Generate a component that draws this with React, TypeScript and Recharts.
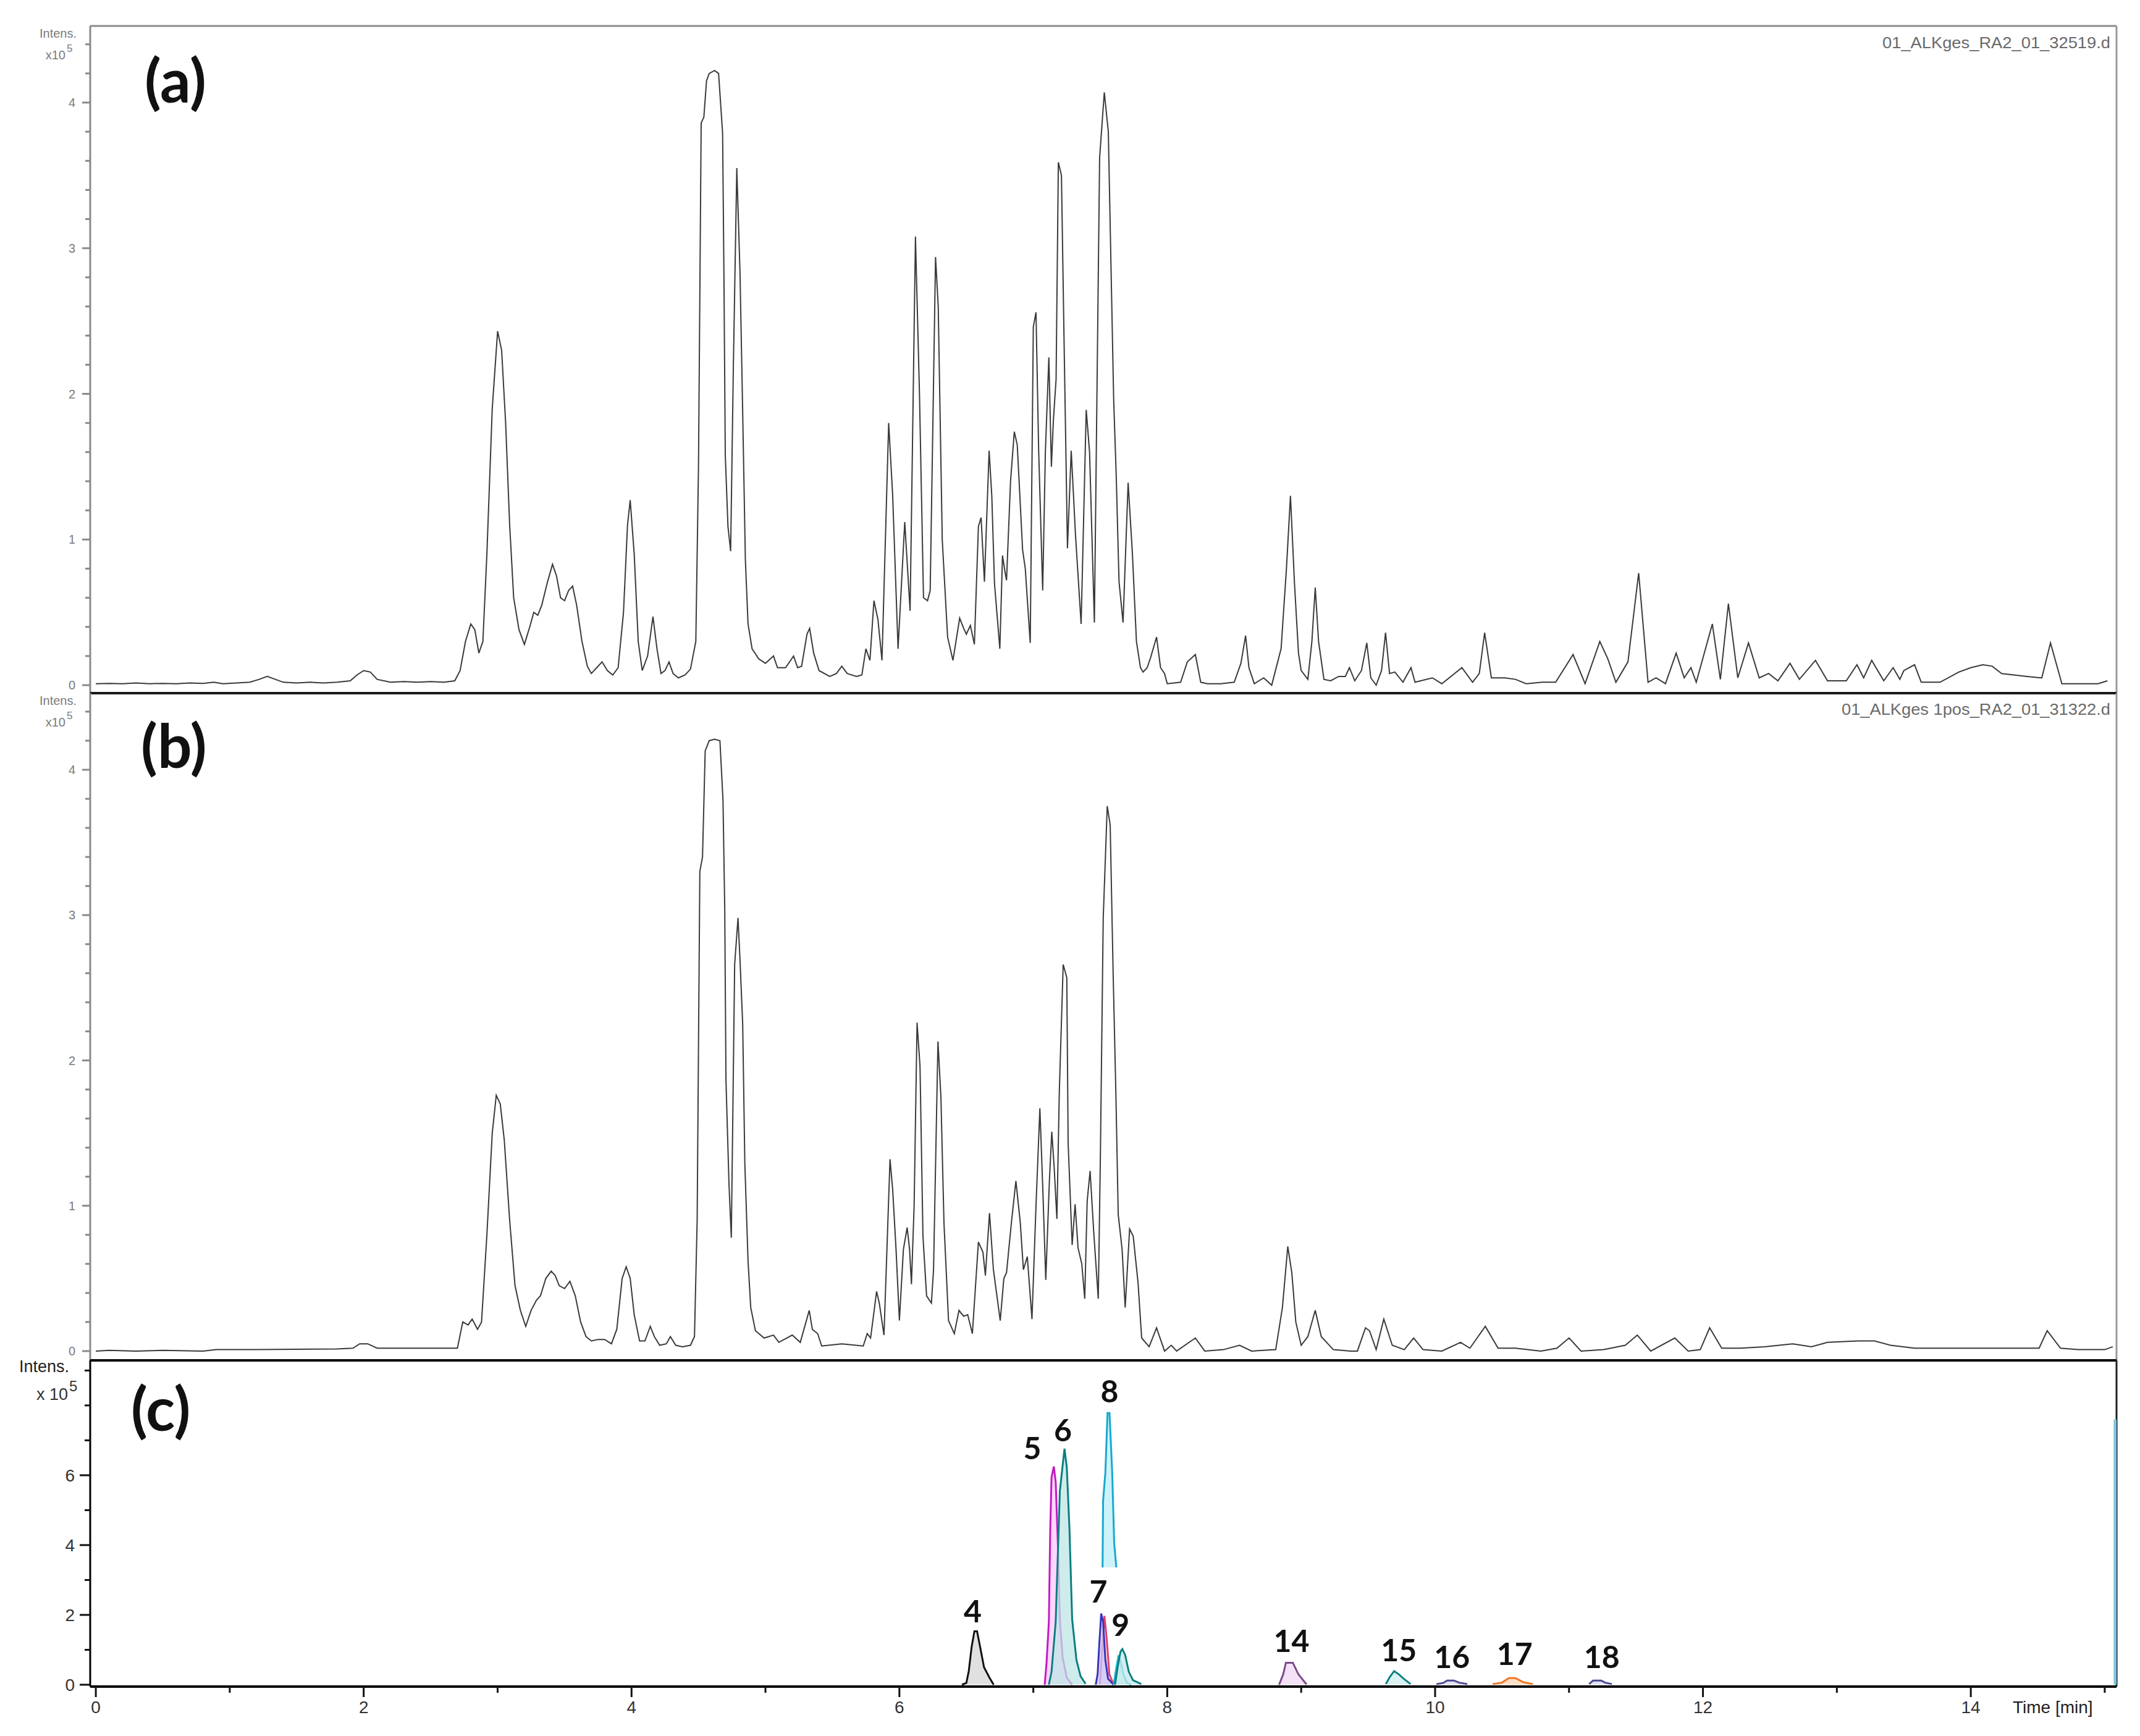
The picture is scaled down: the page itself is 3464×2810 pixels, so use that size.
import React from 'react';
import { ComposedChart, Line, Area, XAxis, YAxis, ReferenceLine, Scatter } from 'recharts';

// ---------- axes ----------
const X_DOMAIN: [number, number] = [-0.042, 15.088];
const A_DOMAIN: [number, number] = [-0.055, 4.526];
const B_DOMAIN: [number, number] = [-0.064, 4.527];
const C_DOMAIN: [number, number] = [-0.053, 9.29];
const X_TICKS = [0, 1, 2, 3, 4, 5, 6, 7, 8, 9, 10, 11, 12, 13, 14, 15];
const AB_Y_TICKS = [0, 0.2, 0.4, 0.6, 0.8, 1, 1.2, 1.4, 1.6, 1.8, 2, 2.2, 2.4, 2.6, 2.8, 3, 3.2, 3.4, 3.6, 3.8, 4, 4.2, 4.4];
const C_Y_TICKS = [0, 1, 2, 3, 4, 5, 6, 7, 8, 9];
const C_Y_LABELLED = [0, 2, 4, 6];

// ---------- panel (a): time [min], intensity [x10^5] ----------
const TRACE_A: [number, number][] = [
  [0, 0.01], [0.1, 0.012], [0.2, 0.01], [0.3, 0.015], [0.4, 0.01], [0.5, 0.012], [0.6, 0.01], [0.7, 0.015],
  [0.8, 0.012], [0.88, 0.02], [0.95, 0.01], [1.05, 0.015], [1.15, 0.02], [1.22, 0.04], [1.28, 0.06], [1.34, 0.04],
  [1.4, 0.02], [1.5, 0.015], [1.6, 0.02], [1.7, 0.015], [1.8, 0.02], [1.9, 0.03], [1.95, 0.07], [2.0, 0.1],
  [2.05, 0.09], [2.1, 0.04], [2.2, 0.02], [2.3, 0.025], [2.4, 0.02], [2.5, 0.025], [2.6, 0.02], [2.68, 0.03],
  [2.72, 0.1], [2.76, 0.3], [2.8, 0.42], [2.83, 0.38], [2.86, 0.22], [2.89, 0.3], [2.92, 0.9], [2.96, 1.9],
  [3.0, 2.43], [3.03, 2.3], [3.06, 1.8], [3.09, 1.1], [3.12, 0.6], [3.16, 0.38], [3.2, 0.28], [3.24, 0.4],
  [3.27, 0.5], [3.3, 0.48], [3.33, 0.55], [3.37, 0.7], [3.41, 0.83], [3.44, 0.75], [3.47, 0.6], [3.5, 0.58],
  [3.53, 0.65], [3.56, 0.68], [3.59, 0.55], [3.63, 0.3], [3.67, 0.13], [3.7, 0.08], [3.74, 0.12], [3.78, 0.16],
  [3.82, 0.1], [3.86, 0.07], [3.9, 0.12], [3.94, 0.5], [3.97, 1.1], [3.99, 1.27], [4.02, 0.9], [4.05, 0.3],
  [4.08, 0.1], [4.12, 0.2], [4.16, 0.47], [4.19, 0.25], [4.22, 0.08], [4.25, 0.1], [4.28, 0.16], [4.31, 0.08],
  [4.35, 0.05], [4.4, 0.07], [4.44, 0.11], [4.48, 0.3], [4.5, 1.5], [4.52, 3.86], [4.54, 3.9], [4.56, 4.15],
  [4.58, 4.2], [4.62, 4.22], [4.65, 4.2], [4.68, 3.79], [4.69, 2.81], [4.7, 1.58], [4.72, 1.09], [4.74, 0.92],
  [4.76, 2.17], [4.786, 3.55], [4.81, 2.83], [4.83, 1.87], [4.85, 0.86], [4.87, 0.42], [4.9, 0.25], [4.95, 0.18],
  [5.0, 0.15], [5.06, 0.2], [5.09, 0.12], [5.15, 0.12], [5.21, 0.2], [5.24, 0.12], [5.27, 0.13], [5.31, 0.35],
  [5.33, 0.39], [5.36, 0.22], [5.4, 0.1], [5.48, 0.06], [5.53, 0.08], [5.57, 0.13], [5.61, 0.08], [5.68, 0.06],
  [5.72, 0.07], [5.75, 0.25], [5.78, 0.17], [5.81, 0.58], [5.84, 0.45], [5.87, 0.17], [5.92, 1.8], [5.95, 1.3],
  [5.99, 0.25], [6.04, 1.12], [6.08, 0.51], [6.12, 3.08], [6.15, 2.0], [6.18, 0.6], [6.21, 0.58], [6.23, 0.65],
  [6.27, 2.94], [6.29, 2.6], [6.32, 1.0], [6.36, 0.33], [6.4, 0.17], [6.45, 0.46], [6.48, 0.39], [6.5, 0.35],
  [6.53, 0.41], [6.56, 0.28], [6.59, 1.09], [6.61, 1.15], [6.635, 0.71], [6.67, 1.61], [6.69, 1.3], [6.71, 0.7],
  [6.75, 0.25], [6.77, 0.89], [6.79, 0.77], [6.8, 0.72], [6.83, 1.4], [6.858, 1.74], [6.88, 1.65], [6.92, 0.93],
  [6.94, 0.8], [6.977, 0.29], [7.0, 2.46], [7.02, 2.56], [7.04, 1.61], [7.07, 0.65], [7.09, 1.6], [7.116, 2.25],
  [7.135, 1.5], [7.15, 1.82], [7.17, 2.1], [7.187, 3.59], [7.21, 3.5], [7.23, 2.34], [7.255, 0.94], [7.283, 1.61],
  [7.315, 1.03], [7.357, 0.42], [7.395, 1.89], [7.42, 1.6], [7.456, 0.43], [7.495, 3.62], [7.53, 4.07], [7.56, 3.8],
  [7.6, 1.96], [7.619, 1.44], [7.64, 0.71], [7.67, 0.43], [7.708, 1.39], [7.74, 0.9], [7.77, 0.3], [7.8, 0.12],
  [7.82, 0.09], [7.85, 0.12], [7.876, 0.19], [7.92, 0.33], [7.95, 0.12], [7.98, 0.08], [8.0, 0.01], [8.1, 0.02],
  [8.15, 0.16], [8.21, 0.21], [8.25, 0.02], [8.3, 0.01], [8.4, 0.01], [8.5, 0.02], [8.55, 0.15], [8.585, 0.34],
  [8.61, 0.12], [8.65, 0.01], [8.72, 0.05], [8.78, 0.0], [8.85, 0.25], [8.89, 0.8], [8.92, 1.3], [8.95, 0.7],
  [8.98, 0.22], [9.0, 0.1], [9.05, 0.04], [9.08, 0.3], [9.105, 0.67], [9.13, 0.3], [9.17, 0.04], [9.22, 0.03],
  [9.28, 0.06], [9.33, 0.06], [9.36, 0.12], [9.4, 0.03], [9.45, 0.1], [9.49, 0.29], [9.52, 0.05], [9.56, 0.0],
  [9.6, 0.1], [9.63, 0.36], [9.66, 0.08], [9.7, 0.09], [9.76, 0.02], [9.82, 0.12], [9.85, 0.02], [9.98, 0.05],
  [10.05, 0.01], [10.2, 0.12], [10.28, 0.02], [10.33, 0.08], [10.37, 0.36], [10.42, 0.05], [10.52, 0.05], [10.6, 0.04],
  [10.68, 0.01], [10.8, 0.02], [10.9, 0.02], [11.03, 0.21], [11.12, 0.01], [11.23, 0.3], [11.29, 0.18], [11.35, 0.02],
  [11.44, 0.16], [11.52, 0.77], [11.59, 0.02], [11.65, 0.05], [11.72, 0.01], [11.8, 0.22], [11.86, 0.05], [11.91, 0.12],
  [11.95, 0.02], [12.07, 0.42], [12.13, 0.04], [12.19, 0.56], [12.26, 0.05], [12.34, 0.29], [12.42, 0.05], [12.49, 0.08],
  [12.56, 0.03], [12.65, 0.15], [12.72, 0.04], [12.84, 0.17], [12.93, 0.03], [13.07, 0.03], [13.15, 0.14], [13.2, 0.05],
  [13.26, 0.17], [13.35, 0.03], [13.42, 0.12], [13.47, 0.04], [13.5, 0.1], [13.58, 0.14], [13.63, 0.02], [13.77, 0.02],
  [13.91, 0.09], [14.0, 0.12], [14.09, 0.14], [14.16, 0.13], [14.23, 0.08], [14.42, 0.06], [14.53, 0.05], [14.595, 0.29],
  [14.68, 0.01], [14.8, 0.01], [14.95, 0.01], [15.02, 0.03],
];

// ---------- panel (b) ----------
const TRACE_B: [number, number][] = [
  [0, 0.0], [0.1, 0.005], [0.3, 0.0], [0.5, 0.005], [0.8, 0.0], [0.9, 0.01], [1.2, 0.01], [1.5, 0.012],
  [1.8, 0.015], [1.92, 0.02], [1.97, 0.05], [2.03, 0.05], [2.1, 0.02], [2.4, 0.02], [2.7, 0.02], [2.74, 0.2],
  [2.78, 0.18], [2.81, 0.22], [2.85, 0.15], [2.88, 0.2], [2.92, 0.8], [2.96, 1.5], [2.99, 1.76], [3.02, 1.7],
  [3.05, 1.45], [3.09, 0.9], [3.13, 0.45], [3.17, 0.28], [3.21, 0.17], [3.25, 0.28], [3.29, 0.35], [3.32, 0.38],
  [3.36, 0.5], [3.4, 0.55], [3.43, 0.52], [3.46, 0.45], [3.5, 0.43], [3.54, 0.48], [3.58, 0.38], [3.62, 0.2],
  [3.66, 0.1], [3.7, 0.07], [3.75, 0.08], [3.8, 0.08], [3.85, 0.05], [3.89, 0.15], [3.93, 0.5], [3.96, 0.58],
  [3.99, 0.5], [4.02, 0.25], [4.06, 0.07], [4.1, 0.07], [4.14, 0.17], [4.17, 0.1], [4.21, 0.04], [4.26, 0.05],
  [4.29, 0.1], [4.33, 0.04], [4.38, 0.03], [4.44, 0.04], [4.47, 0.1], [4.49, 0.9], [4.51, 3.3], [4.53, 3.4],
  [4.55, 4.13], [4.58, 4.2], [4.62, 4.21], [4.66, 4.2], [4.683, 3.79], [4.696, 3.04], [4.705, 1.87], [4.728, 1.14],
  [4.745, 0.78], [4.77, 2.66], [4.795, 2.98], [4.81, 2.69], [4.83, 2.25], [4.846, 1.29], [4.87, 0.62], [4.89, 0.3],
  [4.925, 0.14], [4.99, 0.09], [5.06, 0.11], [5.1, 0.06], [5.2, 0.11], [5.26, 0.06], [5.327, 0.28], [5.35, 0.15],
  [5.39, 0.12], [5.42, 0.035], [5.57, 0.05], [5.73, 0.035], [5.76, 0.12], [5.785, 0.09], [5.83, 0.41], [5.85, 0.33],
  [5.885, 0.11], [5.93, 1.32], [5.95, 1.11], [5.975, 0.7], [6.0, 0.21], [6.03, 0.7], [6.058, 0.85], [6.076, 0.7],
  [6.09, 0.46], [6.11, 1.0], [6.132, 2.26], [6.154, 1.96], [6.176, 0.79], [6.203, 0.38], [6.239, 0.33], [6.255, 0.56],
  [6.288, 2.13], [6.31, 1.75], [6.333, 0.88], [6.367, 0.21], [6.41, 0.12], [6.445, 0.28], [6.48, 0.24], [6.51, 0.25],
  [6.545, 0.12], [6.59, 0.75], [6.624, 0.68], [6.642, 0.52], [6.673, 0.95], [6.702, 0.56], [6.753, 0.21], [6.78, 0.5],
  [6.8, 0.54], [6.836, 0.88], [6.87, 1.17], [6.903, 0.88], [6.926, 0.56], [6.955, 0.65], [6.99, 0.22], [7.02, 1.0],
  [7.049, 1.67], [7.071, 1.11], [7.093, 0.49], [7.12, 1.17], [7.138, 1.51], [7.156, 1.26], [7.176, 0.91], [7.194, 1.78],
  [7.223, 2.66], [7.25, 2.57], [7.26, 1.43], [7.29, 0.73], [7.312, 1.01], [7.334, 0.71], [7.362, 0.6], [7.384, 0.36],
  [7.402, 1.03], [7.424, 1.24], [7.451, 0.82], [7.485, 0.36], [7.5, 1.29], [7.522, 2.98], [7.552, 3.75], [7.574, 3.62],
  [7.596, 2.6], [7.617, 1.75], [7.634, 0.94], [7.663, 0.7], [7.686, 0.3], [7.719, 0.84], [7.746, 0.79], [7.782, 0.47],
  [7.809, 0.09], [7.865, 0.03], [7.92, 0.16], [7.98, 0.0], [8.03, 0.04], [8.07, 0.0], [8.21, 0.09], [8.28, 0.0],
  [8.42, 0.01], [8.54, 0.04], [8.63, 0.0], [8.81, 0.01], [8.86, 0.3], [8.9, 0.72], [8.93, 0.54], [8.96, 0.2],
  [9.0, 0.04], [9.05, 0.1], [9.105, 0.28], [9.15, 0.1], [9.24, 0.01], [9.37, 0.0], [9.42, 0.0], [9.48, 0.16],
  [9.51, 0.14], [9.56, 0.01], [9.617, 0.22], [9.68, 0.04], [9.77, 0.01], [9.84, 0.09], [9.91, 0.01], [10.05, 0.0],
  [10.19, 0.06], [10.26, 0.02], [10.375, 0.17], [10.47, 0.02], [10.6, 0.02], [10.79, 0.0], [10.91, 0.02], [11.0, 0.09],
  [11.09, 0.0], [11.26, 0.01], [11.42, 0.04], [11.51, 0.11], [11.61, 0.0], [11.79, 0.09], [11.89, 0.0], [11.98, 0.01],
  [12.05, 0.16], [12.14, 0.02], [12.28, 0.02], [12.46, 0.03], [12.67, 0.05], [12.81, 0.03], [12.93, 0.06], [13.16, 0.07],
  [13.28, 0.07], [13.4, 0.04], [13.58, 0.02], [13.86, 0.02], [14.1, 0.02], [14.51, 0.02], [14.57, 0.14], [14.67, 0.02],
  [14.8, 0.01], [15.0, 0.01], [15.06, 0.03],
];

// ---------- panel (c): extracted ion chromatograms ----------
const PEAK_4: [number, number][] = [[6.467, 0], [6.5, 0.05], [6.518, 0.39], [6.539, 1.07], [6.56, 1.53], [6.58, 1.53], [6.601, 1.12], [6.632, 0.5], [6.673, 0.2], [6.704, 0.0]];
const PEAK_5: [number, number][] = [[7.085, 0], [7.099, 0.64], [7.116, 1.8], [7.126, 4.38], [7.136, 5.94], [7.153, 6.25], [7.167, 5.81], [7.184, 3.97], [7.198, 1.87], [7.219, 0.78], [7.25, 0.2], [7.29, 0]];
const PEAK_6: [number, number][] = [[7.116, 0], [7.136, 0.37], [7.167, 1.8], [7.198, 5.54], [7.219, 6.28], [7.233, 6.76], [7.25, 6.22], [7.27, 4.45], [7.29, 1.87], [7.322, 0.71], [7.353, 0.24], [7.39, 0.03]];
const PEAK_7: [number, number][] = [[7.466, 0], [7.48, 0.3], [7.493, 1.19], [7.507, 2.04], [7.521, 1.8], [7.538, 0.71], [7.558, 0.17], [7.6, 0]];
const PEAK_7B: [number, number][] = [[7.497, 0], [7.517, 1.19], [7.531, 1.97], [7.548, 1.32], [7.568, 0.3], [7.6, 0]];
const PEAK_8: [number, number][] = [[7.517, 3.36], [7.521, 5.27], [7.538, 6.08], [7.554, 7.78], [7.569, 7.78], [7.589, 6.08], [7.604, 4.04], [7.62, 3.36]];
const PEAK_8_CUT = 3.36;
const PEAK_9: [number, number][] = [[7.61, 0], [7.63, 0.51], [7.651, 0.95], [7.665, 1.02], [7.686, 0.85], [7.713, 0.37], [7.744, 0.13], [7.806, 0.02]];
const PEAK_9B: [number, number][] = [[7.6, 0], [7.618, 0.45], [7.635, 0.8], [7.65, 0.7], [7.672, 0.3], [7.7, 0.05], [7.73, 0]];
const PEAK_14: [number, number][] = [[8.835, 0], [8.866, 0.3], [8.886, 0.63], [8.938, 0.63], [8.979, 0.3], [9.04, 0.01]];
const PEAK_15: [number, number][] = [[9.632, 0.02], [9.663, 0.23], [9.694, 0.39], [9.725, 0.31], [9.766, 0.17], [9.817, 0.02]];
const PEAK_16: [number, number][] = [[10.01, 0.02], [10.06, 0.05], [10.09, 0.12], [10.14, 0.12], [10.18, 0.06], [10.24, 0.02]];
const PEAK_17: [number, number][] = [[10.43, 0.02], [10.5, 0.06], [10.55, 0.19], [10.6, 0.19], [10.66, 0.07], [10.73, 0.02]];
const PEAK_18: [number, number][] = [[11.15, 0.02], [11.18, 0.12], [11.24, 0.12], [11.27, 0.06], [11.32, 0.02]];
const EDGE_TRACE: [number, number][] = [[15.078, 0], [15.078, 7.6]];

const PEAK_LABELS = [
  { t: 6.547, v: 2.1, label: '4' },
  { t: 6.992, v: 6.77, label: '5' },
  { t: 7.221, v: 7.29, label: '6' },
  { t: 7.486, v: 2.68, label: '7' },
  { t: 7.569, v: 8.41, label: '8' },
  { t: 7.651, v: 1.72, label: '9' },
  { t: 8.928, v: 1.25, label: '14' },
  { t: 9.729, v: 0.995, label: '15' },
  { t: 10.126, v: 0.805, label: '16' },
  { t: 10.594, v: 0.876, label: '17' },
  { t: 11.244, v: 0.805, label: '18' },
];

const FILE_A = '01_ALKges_RA2_01_32519.d';
const FILE_B = '01_ALKges 1pos_RA2_01_31322.d';

const pts = (arr: [number, number][]) => arr.map(([t, v]) => ({ t, v }));

const SANS = '"Liberation Sans", Arial, sans-serif';
const BOLD = 'Lato, "Open Sans", sans-serif';
const GREY = '#8a8a8a';

const isMajor = (v: number) => Math.abs(v - Math.round(v)) < 1e-6;

const YTickAB = (props: any) => {
  const { x, y, payload } = props;
  const v = payload.value;
  const major = isMajor(v);
  const len = major ? 13 : 8;
  return (
    <g>
      <line x1={x - len} x2={x} y1={y} y2={y} stroke={GREY} strokeWidth={3} />
      {major && (
        <text x={x - 24} y={y} dy="0.36em" textAnchor="end" fontSize={20} fill="#7a7a7a" fontFamily={SANS}>
          {Math.round(v)}
        </text>
      )}
    </g>
  );
};

const YTickC = (props: any) => {
  const { x, y, payload } = props;
  const v = payload.value;
  const major = C_Y_LABELLED.includes(v);
  const len = major ? 17 : 9;
  return (
    <g>
      <line x1={x - len} x2={x} y1={y} y2={y} stroke="#111" strokeWidth={3} />
      {major && (
        <text x={x - 25} y={y} dy="0.36em" textAnchor="end" fontSize={28} fill="#333" fontFamily={SANS}>
          {v}
        </text>
      )}
    </g>
  );
};

const XTickC = (props: any) => {
  const { x, y, payload } = props;
  const v = payload.value;
  const major = v % 2 === 0 && v <= 14;
  const len = major ? 17 : 10;
  return (
    <g>
      <line x1={x} x2={x} y1={y} y2={y + len} stroke="#111" strokeWidth={3} />
      {major && (
        <text x={x} y={y + 43} textAnchor="middle" fontSize={28} fill="#333" fontFamily={SANS}>
          {v}
        </text>
      )}
    </g>
  );
};

const renderPeakLabel = (props: any) => {
  const { cx, cy, payload } = props;
  return (
    <text x={cx} y={cy} dy="0.36em" textAnchor="middle" fontSize={50} fontWeight={700} fill="#111" fontFamily={BOLD}>
      {payload.label}
    </text>
  );
};

const W = 3464;
const MARGIN_R = 38;
const Y_AXIS_W = 146;

const TracePanel = ({ trace, domain, top, height, marginTop, marginBottom, topColor }: any) => (
  <div style={{ position: 'absolute', left: 0, top }}>
    <ComposedChart width={W} height={height} margin={{ top: marginTop, right: MARGIN_R, bottom: marginBottom, left: 0 }}>
      <XAxis dataKey="t" type="number" domain={X_DOMAIN} allowDataOverflow hide />
      <YAxis
        type="number"
        domain={domain}
        allowDataOverflow
        width={Y_AXIS_W}
        ticks={AB_Y_TICKS}
        interval={0}
        tickSize={0}
        tickMargin={0}
        tickLine={false}
        tick={<YTickAB />}
        axisLine={{ stroke: GREY, strokeWidth: 3 }}
      />
      <ReferenceLine y={domain[1]} stroke={topColor} strokeWidth={topColor === GREY ? 3 : 4} ifOverflow="extendDomain" />
      <ReferenceLine x={X_DOMAIN[1]} stroke="#9a9a9a" strokeWidth={3} ifOverflow="extendDomain" />
      <Line data={pts(trace)} dataKey="v" type="linear" dot={false} stroke="#3a3a3a" strokeWidth={2} isAnimationActive={false} />
    </ComposedChart>
  </div>
);

const peakSeries = [
  { key: 'p4', data: PEAK_4, stroke: '#111111', fill: '#d6d6d6' },
  { key: 'p5', data: PEAK_5, stroke: '#c21bc2', fill: '#ffc8ff' },
  { key: 'p6', data: PEAK_6, stroke: '#0a7f7f', fill: '#bfe6e6' },
  { key: 'p7b', data: PEAK_7B, stroke: '#e0406a', fill: '#ffd0e0' },
  { key: 'p7', data: PEAK_7, stroke: '#3a34b8', fill: '#c8c8ff' },
  { key: 'p9b', data: PEAK_9B, stroke: '#18b8d8', fill: '#c8f2fa' },
  { key: 'p9', data: PEAK_9, stroke: '#0a7f7f', fill: '#c4e8e8' },
  { key: 'p14', data: PEAK_14, stroke: '#7a4a8a', fill: '#f0d8f4' },
  { key: 'p15', data: PEAK_15, stroke: '#0a8080', fill: '#cdeeee' },
  { key: 'p16', data: PEAK_16, stroke: '#4a4a8e', fill: '#d8d8f0' },
  { key: 'p17', data: PEAK_17, stroke: '#f07424', fill: '#ffd6b4' },
  { key: 'p18', data: PEAK_18, stroke: '#4a4a8e', fill: '#d8d8f0' },
];

const PanelC = () => (
  <div style={{ position: 'absolute', left: 0, top: 2180 }}>
    <ComposedChart width={W} height={630} margin={{ top: 22, right: MARGIN_R, bottom: 0, left: 0 }}>
      <XAxis
        dataKey="t"
        type="number"
        domain={X_DOMAIN}
        allowDataOverflow
        ticks={X_TICKS}
        interval={0}
        height={80}
        tickSize={0}
        tickMargin={0}
        tickLine={false}
        tick={<XTickC />}
        axisLine={{ stroke: '#000', strokeWidth: 4 }}
      />
      <YAxis
        type="number"
        domain={C_DOMAIN}
        allowDataOverflow
        width={Y_AXIS_W}
        ticks={C_Y_TICKS}
        interval={0}
        tickSize={0}
        tickMargin={0}
        tickLine={false}
        tick={<YTickC />}
        axisLine={{ stroke: '#000', strokeWidth: 3 }}
      />
      <ReferenceLine y={C_DOMAIN[1]} stroke="#000" strokeWidth={4} ifOverflow="extendDomain" />
      <ReferenceLine x={X_DOMAIN[1]} stroke="#222" strokeWidth={3} ifOverflow="extendDomain" />
      {peakSeries.map((p) => (
        <Area
          key={p.key}
          data={pts(p.data)}
          dataKey="v"
          type="linear"
          baseValue={0}
          stroke={p.stroke}
          strokeWidth={3}
          fill={p.fill}
          fillOpacity={0.75}
          isAnimationActive={false}
        />
      ))}
      <Area
        data={pts(PEAK_8)}
        dataKey={(d: any) => [PEAK_8_CUT, d.v]}
        type="linear"
        stroke="none"
        fill="#c8f2fa"
        fillOpacity={0.9}
        isAnimationActive={false}
      />
      <Line data={pts(PEAK_8)} dataKey="v" type="linear" dot={false} stroke="#18a8d0" strokeWidth={3} isAnimationActive={false} />
      <Line data={pts(EDGE_TRACE)} dataKey="v" type="linear" dot={false} stroke="#7cc8e2" strokeWidth={5} isAnimationActive={false} />
      <Scatter data={PEAK_LABELS} dataKey="v" shape={renderPeakLabel} isAnimationActive={false} />
    </ComposedChart>
  </div>
);

const Overlay = () => (
  <svg width={W} height={2810} style={{ position: 'absolute', left: 0, top: 0, pointerEvents: 'none' }}>
    {/* panel a */}
    <text x={124} y={61} textAnchor="end" fontSize={20} fill="#7a7a7a" fontFamily={SANS}>Intens.</text>
    <text x={106} y={96} textAnchor="end" fontSize={20} fill="#7a7a7a" fontFamily={SANS}>x10</text>
    <text x={108} y={84} fontSize={17} fill="#7a7a7a" fontFamily={SANS}>5</text>
    <text x={3416} y={78} textAnchor="end" fontSize={25} fill="#6a6a6a" fontFamily={SANS} textLength={369} lengthAdjust="spacingAndGlyphs">{FILE_A}</text>
    <text x={234} y={166} fontSize={98} fontWeight={700} fill="#111" fontFamily={BOLD}>(a)</text>
    {/* panel b */}
    <text x={124} y={1141} textAnchor="end" fontSize={20} fill="#7a7a7a" fontFamily={SANS}>Intens.</text>
    <text x={106} y={1176} textAnchor="end" fontSize={20} fill="#7a7a7a" fontFamily={SANS}>x10</text>
    <text x={108} y={1164} fontSize={17} fill="#7a7a7a" fontFamily={SANS}>5</text>
    <text x={3416} y={1157} textAnchor="end" fontSize={25} fill="#6a6a6a" fontFamily={SANS} textLength={435} lengthAdjust="spacingAndGlyphs">{FILE_B}</text>
    <text x={228} y={1243} fontSize={98} fontWeight={700} fill="#111" fontFamily={BOLD}>(b)</text>
    {/* panel c */}
    <text x={112} y={2221} textAnchor="end" fontSize={27} fill="#222" fontFamily={SANS}>Intens.</text>
    <text x={110} y={2266} textAnchor="end" fontSize={27} fill="#333" fontFamily={SANS}>x 10</text>
    <text x={112} y={2252} fontSize={24} fill="#333" fontFamily={SANS}>5</text>
    <text x={212} y={2316} fontSize={98} fontWeight={700} fill="#111" fontFamily={BOLD}>(c)</text>
    <text x={3258} y={2773} fontSize={28} fill="#222" fontFamily={SANS}>Time [min]</text>
  </svg>
);

export default function App() {
  return (
    <div style={{ position: 'absolute', left: 0, top: 0, width: W, height: 2810, background: '#fff', overflow: 'hidden' }}>
      <TracePanel trace={TRACE_A} domain={A_DOMAIN} top={0} height={1130} marginTop={42} marginBottom={8} topColor={GREY} />
      <TracePanel trace={TRACE_B} domain={B_DOMAIN} top={1100} height={1110} marginTop={22} marginBottom={8} topColor="#1a1a1a" />
      <PanelC />
      <Overlay />
    </div>
  );
}
